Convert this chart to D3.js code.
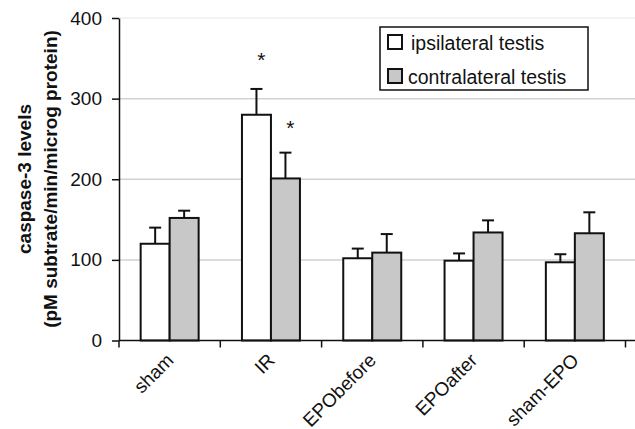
<!DOCTYPE html>
<html>
<head>
<meta charset="utf-8">
<script src="https://cdn.jsdelivr.net/npm/d3@7"></script>
<style>
  body { margin: 0; background: #fff; }
  svg { display: block; font-family: "Liberation Sans", Arial, sans-serif; }
  .axis path, .axis line { stroke: #111; stroke-width: 1.5; }
  .axis text { font-size: 19px; fill: #111; }
</style>
</head>
<body>
<div id="chart"></div>
<script>
var svgWidth = 635;
var svgHeight = 429;

var margin = { top: 18, right: 9, bottom: 89, left: 119 };
var width = svgWidth - margin.left - margin.right;
var height = svgHeight - margin.top - margin.bottom;

// data
var groups = ["sham", "IR", "EPObefore", "EPOafter", "sham-EPO"];
var series = ["ipsilateral testis", "contralateral testis"];
var ipsiValues = [120, 280, 102, 99, 97];
var ipsiErrors = [20, 32, 12, 9, 10];
var contraValues = [152, 201, 109, 134, 133];
var contraErrors = [9, 32, 23, 15, 26];
var significant = ["IR"];
var yTicks = [0, 100, 200, 300, 400];

var fills = ["#ffffff", "#c8c8c9"];

var rows = [];
groups.forEach(function(g, i) {
  rows.push({ group: g, series: series[0], value: ipsiValues[i], err: ipsiErrors[i] });
  rows.push({ group: g, series: series[1], value: contraValues[i], err: contraErrors[i] });
});

var svg = d3.select("#chart")
  .append("svg")
  .attr("width", svgWidth)
  .attr("height", svgHeight);

var chartGroup = svg.append("g")
  .attr("transform", `translate(${margin.left}, ${margin.top})`);

var x0 = d3.scaleBand()
  .domain(groups)
  .range([0, 506.5])
  .padding(0);

var x1 = d3.scaleBand()
  .domain(series)
  .range([0, x0.bandwidth()])
  .paddingInner(0)
  .paddingOuter(0.747);

var y = d3.scaleLinear()
  .domain([0, 400])
  .range([height + 0.5, 0]);

var color = d3.scaleOrdinal().domain(series).range(fills);

// gridlines
chartGroup.selectAll(".grid")
  .data(yTicks.filter(d => d > 0))
  .enter()
  .append("line")
  .attr("x1", 0)
  .attr("x2", width + margin.right)
  .attr("y1", d => y(d))
  .attr("y2", d => y(d))
  .attr("stroke", d => d === 400 ? "#efefef" : "#d2d2d2")
  .attr("stroke-width", 1.5);

// bars
chartGroup.selectAll(".bar")
  .data(rows)
  .enter()
  .append("rect")
  .attr("x", d => x0(d.group) + x1(d.series))
  .attr("y", d => y(d.value))
  .attr("width", x1.bandwidth())
  .attr("height", d => y(0) - y(d.value))
  .attr("fill", d => color(d.series))
  .attr("stroke", "#111")
  .attr("stroke-width", 2);

// error bars (upper only)
var errs = chartGroup.selectAll(".err")
  .data(rows)
  .enter()
  .append("g")
  .attr("transform", d => `translate(${x0(d.group) + x1(d.series) + x1.bandwidth() / 2}, 0)`);

errs.append("line")
  .attr("x1", 0).attr("x2", 0)
  .attr("y1", d => y(d.value))
  .attr("y2", d => y(d.value + d.err))
  .attr("stroke", "#111")
  .attr("stroke-width", 2);

errs.append("line")
  .attr("x1", -6).attr("x2", 6)
  .attr("y1", d => y(d.value + d.err))
  .attr("y2", d => y(d.value + d.err))
  .attr("stroke", "#111")
  .attr("stroke-width", 2);

// asterisks
chartGroup.selectAll(".star")
  .data(rows.filter(d => significant.indexOf(d.group) >= 0))
  .enter()
  .append("text")
  .attr("x", d => x0(d.group) + x1(d.series) + x1.bandwidth() / 2 + 5)
  .attr("y", (d, i) => y(d.value + d.err) - (i === 0 ? 22 : 18))
  .attr("text-anchor", "middle")
  .attr("font-size", "21px")
  .attr("fill", "#111")
  .text("*");

// y axis
var leftAxis = d3.axisLeft(y)
  .tickValues(yTicks)
  .tickSize(7)
  .tickPadding(10)
  .tickSizeOuter(0);

chartGroup.append("g")
  .attr("class", "axis")
  .call(leftAxis);

// x axis: baseline + ticks between categories
var xAxisG = chartGroup.append("g")
  .attr("class", "axis")
  .attr("transform", `translate(0, ${y(0)})`);

xAxisG.append("line")
  .attr("x1", 0)
  .attr("x2", width + margin.right)
  .attr("y1", 0)
  .attr("y2", 0);

var bounds = groups.map(g => x0(g)).concat([x0.range()[1]]);
xAxisG.selectAll(".xtick")
  .data(bounds)
  .enter()
  .append("line")
  .attr("x1", d => d).attr("x2", d => d)
  .attr("y1", 0).attr("y2", 7);

xAxisG.selectAll(".xlabel")
  .data(groups)
  .enter()
  .append("text")
  .attr("transform", d => `translate(${x0(d) + x0.bandwidth() / 2 + 5}, 21) rotate(-45)`)
  .attr("text-anchor", "end")
  .text(d => d);

// y axis title
var yTitle = chartGroup.append("text")
  .attr("transform", "rotate(-90)")
  .attr("text-anchor", "middle")
  .attr("font-size", "19px")
  .attr("font-weight", "bold")
  .attr("fill", "#111");

yTitle.append("tspan")
  .attr("x", -height / 2)
  .attr("y", 31 - margin.left)
  .text("caspase-3 levels");

yTitle.append("tspan")
  .attr("x", -height / 2)
  .attr("y", 57 - margin.left)
  .text("(pM subtrate/min/microg protein)");

// legend
var legend = svg.append("g")
  .attr("transform", "translate(380, 27)");

legend.append("rect")
  .attr("width", 208)
  .attr("height", 63)
  .attr("fill", "#fff")
  .attr("stroke", "#111")
  .attr("stroke-width", 1.5);

var items = legend.selectAll(".item")
  .data(series)
  .enter()
  .append("g")
  .attr("transform", (d, i) => `translate(0, ${i * 34})`);

items.append("rect")
  .attr("x", 8)
  .attr("y", 8)
  .attr("width", 14)
  .attr("height", 14)
  .attr("fill", d => color(d))
  .attr("stroke", "#111")
  .attr("stroke-width", 2);

items.append("text")
  .attr("x", (d, i) => i === 0 ? 31 : 28)
  .attr("y", 23)
  .attr("font-size", "19.5px")
  .attr("fill", "#111")
  .text(d => d);
</script>
</body>
</html>
